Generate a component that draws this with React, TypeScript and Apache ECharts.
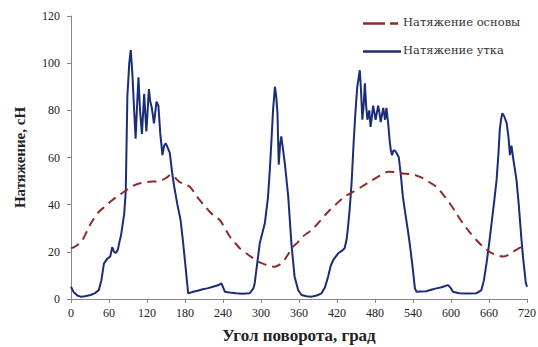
import React, { useEffect, useRef } from "react";
import * as echarts from "echarts";

const xTicks = [0, 60, 120, 180, 240, 300, 360, 420, 480, 540, 600, 660, 720];
const yTicks = [0, 20, 40, 60, 80, 100, 120];

const warpName = "Натяжение основы";
const weftName = "Натяжение утка";

const warpAngle = [0, 8, 18, 28.6, 36, 44, 55, 65.5, 76, 86.5, 97, 107.5, 118, 128.6, 137, 144.4, 151, 157.6, 164, 170.7, 181, 187.6, 195, 203, 211, 219, 227, 235, 243, 251, 259, 266.5, 277, 287.5, 298, 308.7, 315, 322, 329, 335, 343, 350.7, 358, 366, 380, 393, 406, 419, 432, 446, 459, 472, 485, 493, 500.7, 511, 522, 535, 543, 549, 556, 566, 577, 587, 598, 608, 619, 629, 640, 650, 661, 671, 682, 690, 698, 707, 716.5, 720];
const warpTension = [21.5, 22.5, 25, 30.7, 34, 37, 39.5, 42, 44, 46, 47.8, 49, 49.5, 49.8, 49.8, 50.5, 51.5, 52.6, 51.5, 49.8, 48.4, 47.6, 45, 42, 39.5, 37, 35, 33.5, 30, 26.4, 23.8, 21.5, 19.3, 17.3, 15.5, 14.4, 13.8, 13.7, 14.5, 15.8, 19, 22.2, 24, 26.5, 29.3, 33, 37, 40.3, 43.4, 45.5, 47.6, 49.8, 51.9, 53, 54, 53.8, 53.3, 53, 52.6, 52, 51.2, 49.5, 47.6, 44.5, 40.6, 36.5, 32, 28.5, 25, 22.3, 20, 18.7, 18, 18.6, 20, 21.5, 22.5, 22.5];

const weftAngle = [0, 4, 10, 15, 22, 31, 38, 44, 48, 52, 57, 62, 65, 68, 71, 74, 76, 79, 81, 84, 86.5, 89, 92, 94.4, 97, 99.7, 102, 104, 106.5, 109, 112, 115.5, 117, 119, 123, 125, 127.6, 131, 133, 135, 138, 141, 144.4, 147, 149.7, 153, 156, 160, 163, 168, 173, 177, 180, 185, 193, 200, 208, 215, 224, 232, 237.6, 243, 250, 261, 270, 282, 288, 290, 294, 298, 306, 311, 314, 316.6, 319, 322, 324, 326, 328, 330, 332, 335, 337.6, 343, 348, 353, 358.6, 364, 372, 380, 388, 395.6, 401, 406, 410, 414, 418, 422, 428, 432, 435, 437.5, 440, 443, 446, 449, 452, 456, 458, 460, 462, 464, 466, 468, 471, 473, 475, 477, 479, 481, 483, 485, 487, 489, 491, 493, 496, 498, 501, 503, 505, 507, 509, 511, 514, 517.6, 521, 524, 528, 532, 536, 540, 543, 545.6, 552, 561, 570, 577, 585, 592, 595.5, 600, 603, 613, 625, 640, 648, 652, 656, 660, 664, 668, 672, 675, 677, 679, 681, 684, 688, 691, 693, 695.5, 698, 703.4, 707, 711, 714, 716.5, 718, 720];
const weftTension = [5.2, 3, 1.5, 1, 1.2, 1.7, 2.5, 3.8, 8, 15, 17, 18, 22, 20, 19.5, 21, 23.6, 27, 30.7, 36, 46, 86, 100, 105.6, 95, 80, 68, 80, 94, 80, 70, 87, 80, 71, 89, 84, 81, 74.5, 79, 83.7, 82, 70, 61, 65, 66, 64, 62, 53, 47.6, 40, 33.5, 24, 16, 2.4, 3.1, 3.5, 4.1, 4.5, 5.2, 5.8, 6.6, 3.1, 2.8, 2.4, 2.2, 2.4, 4.5, 6.6, 15, 23.6, 32, 43, 55, 67.5, 80, 90, 86, 78.8, 57, 65, 69, 63, 57.6, 43.4, 23.6, 9.5, 3.8, 1.7, 1.2, 1, 1.5, 2.4, 5, 9.5, 14, 16.5, 18, 19.4, 20.5, 21.5, 25, 30.7, 38, 49, 65, 78.8, 90, 97, 88, 76, 82, 91.5, 82, 76, 80, 73, 77, 82, 79, 76, 79, 82, 79, 75, 78, 81, 76, 81, 74, 67.5, 63, 61, 63, 63, 62, 60, 52, 43.4, 36, 29, 21, 12, 4.5, 3.1, 3.2, 3.3, 4, 4.5, 5, 5.6, 5.9, 4.5, 3.1, 2.4, 2.3, 2.4, 3.8, 8, 15, 23, 32, 41, 50.5, 62, 71.7, 76, 78.8, 77.5, 74.5, 68, 61, 65, 60, 50.5, 40, 26, 17, 11, 7, 5.2];

const SERIF = "Liberation Serif";
const CYR_SERIF = "DejaVu Serif";
const WARP_COLOR = "#8e2b2b";
const WEFT_COLOR = "#1b2d78";

export default function App() {
  const ref = useRef<HTMLDivElement>(null);
  useEffect(() => {
    if (!ref.current) return;
    const chart = echarts.init(ref.current, undefined, { renderer: "svg" });
    const warpData = warpAngle.map((a, i) => [a, warpTension[i]]);
    const weftData = weftAngle.map((a, i) => [a, weftTension[i]]);
    chart.setOption({
      animation: false,
      backgroundColor: "#ffffff",
      textStyle: { fontFamily: SERIF },
      grid: { left: 71, right: 11, top: 16, bottom: 48, containLabel: false, outerBoundsMode: "none" },
      graphic: [
        {
          type: "line",
          shape: { x1: 363, y1: 23.5, x2: 398, y2: 23.5 },
          style: { stroke: WARP_COLOR, lineWidth: 2.5, lineDash: [22, 5, 8, 5] },
        },
        {
          type: "text",
          left: 403,
          top: 16,
          style: { text: warpName, fontFamily: CYR_SERIF, fontSize: 11.5, fill: "#333" },
        },
        {
          type: "line",
          shape: { x1: 363, y1: 51.5, x2: 401, y2: 51.5 },
          style: { stroke: WEFT_COLOR, lineWidth: 2.5 },
        },
        {
          type: "text",
          left: 403,
          top: 44,
          style: { text: weftName, fontFamily: CYR_SERIF, fontSize: 11.5, fill: "#333" },
        },
      ],
      xAxis: {
        type: "value",
        min: 0,
        max: 720,
        interval: 60,
        name: "Угол поворота, град",
        nameLocation: "middle",
        nameGap: 28,
        nameTextStyle: { fontFamily: SERIF, fontSize: 17, fontWeight: "bold", color: "#222", verticalAlign: "top" },
        axisLine: { show: true, lineStyle: { color: "#888", width: 1 } },
        axisTick: { show: true, inside: false, length: 4, lineStyle: { color: "#888" } },
        axisLabel: {
          fontFamily: SERIF,
          fontSize: 12,
          color: "#222",
          margin: 8,
          formatter: (v: number) => (xTicks.includes(v) ? String(v) : ""),
        },
        splitLine: { show: false },
      },
      yAxis: {
        type: "value",
        min: 0,
        max: 120,
        interval: 20,
        name: "Натяжение, сН",
        nameLocation: "middle",
        nameGap: 44,
        nameTextStyle: { fontFamily: SERIF, fontSize: 15, fontWeight: "bold", color: "#222" },
        axisLine: { show: true, lineStyle: { color: "#888", width: 1 } },
        axisTick: { show: true, inside: false, length: 4, lineStyle: { color: "#888" } },
        axisLabel: {
          fontFamily: SERIF,
          fontSize: 12,
          color: "#222",
          margin: 11,
          formatter: (v: number) => (yTicks.includes(v) ? String(v) : ""),
        },
        splitLine: { show: false },
      },
      series: [
        {
          name: warpName,
          type: "line",
          data: warpData,
          showSymbol: false,
          symbol: "none",
          smooth: 0.3,
          lineStyle: { color: WARP_COLOR, width: 2, type: [9, 6] },
          itemStyle: { color: WARP_COLOR },
          z: 3,
        },
        {
          name: weftName,
          type: "line",
          data: weftData,
          showSymbol: false,
          symbol: "none",
          lineStyle: { color: WEFT_COLOR, width: 2 },
          itemStyle: { color: WEFT_COLOR },
          z: 2,
        },
      ],
    });
    return () => chart.dispose();
  }, []);
  return <div ref={ref} style={{ width: 538, height: 347, position: "absolute", left: 0, top: 0 }} />;
}
